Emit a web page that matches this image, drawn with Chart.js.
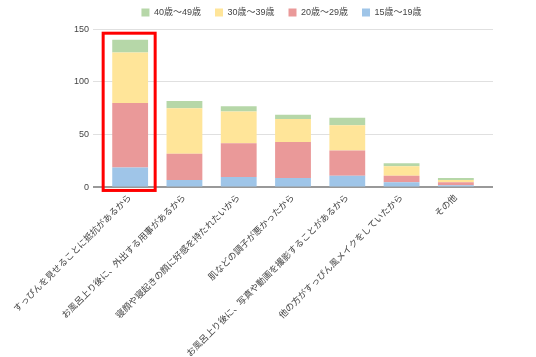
<!DOCTYPE html>
<html><head><meta charset="utf-8">
<script src="https://cdn.jsdelivr.net/npm/chart.js@4/dist/chart.umd.min.js"></script>
<style>html,body{margin:0;padding:0;background:#fff}canvas{display:block}</style>
</head><body>
<canvas id="c" width="536" height="357"></canvas>
<script>
const categories = [
  "すっぴんを見せることに抵抗があるから",
  "お風呂上り後に、外出する用事があるから",
  "寝顔や寝起きの顔に好感を持たれたいから",
  "肌などの調子が悪かったから",
  "お風呂上り後に、写真や動画を撮影することがあるから",
  "他の方がすっぴん風メイクをしていたから",
  "その他"
];
const seriesNames = ["15歳〜19歳", "20歳〜29歳", "30歳〜39歳", "40歳〜49歳"];
const age15to19 = [19, 7, 10, 9, 11, 5, 2];
const age20to29 = [61, 25, 32, 34, 24, 6, 3];
const age30to39 = [48, 43, 30, 22, 24, 9, 2];
const age40to49 = [12, 7, 5, 4, 7, 3, 2];
const yTicks = [0, 50, 100, 150];

const colors = ["#9fc5e8", "#ea9999", "#ffe599", "#b6d7a8"];
const values = [age15to19, age20to29, age30to39, age40to49];
const FONT = 'Arial, "Liberation Sans", "Noto Sans CJK JP", sans-serif';
const gridColor = ctx => (ctx.tick && ctx.tick.value === 0) ? "#999999" : "#e0e0e0";
const gridWidth = ctx => (ctx.tick && ctx.tick.value === 0) ? 2 : 1;

const highlightBox = {
  id: "highlightBox",
  afterDatasetsDraw(chart) {
    const bar = chart.getDatasetMeta(0).data[0];
    const y = chart.scales.y;
    const c = chart.ctx;
    c.save();
    c.strokeStyle = "#ff0000";
    c.lineWidth = 3;
    c.strokeRect(bar.x - 27, y.top + 4, 52, y.getPixelForValue(0) - y.top - 1);
    c.restore();
  }
};

new Chart(document.getElementById("c"), {
  type: "bar",
  data: {
    labels: categories,
    datasets: seriesNames.map((n, i) => ({
      label: n,
      data: values[i],
      backgroundColor: colors[i],
      borderWidth: 0,
      categoryPercentage: 1,
      barPercentage: 0.66
    }))
  },
  options: {
    responsive: false,
    animation: false,
    devicePixelRatio: 1,
    layout: { padding: { left: 70, right: 43, top: -6, bottom: -7 } },
    plugins: {
      title: { display: true, text: "", weight: 500, position: "top", font: { size: 1 }, padding: { top: 0, bottom: 1 } },
      legend: {
        position: "top",
        reverse: true,
        labels: { boxWidth: 8, boxHeight: 8, padding: 14, color: "#444", font: { family: FONT, size: 9 } }
      },
      tooltip: { enabled: false }
    },
    scales: {
      x: {
        stacked: true,
        grid: { display: false, drawTicks: false },
        border: { display: false },
        ticks: { autoSkip: false, maxRotation: 45, minRotation: 45, padding: 5, color: "#444", font: { family: FONT, size: 9 } }
      },
      y: {
        stacked: true,
        min: 0, max: 150,
        afterBuildTicks: s => { s.ticks = yTicks.map(v => ({ value: v })); },
        grid: { color: gridColor, lineWidth: gridWidth, tickLength: 10, tickColor: gridColor, tickWidth: gridWidth },
        border: { display: false },
        ticks: { padding: 4, color: "#444", font: { family: FONT, size: 9 } }
      },
      y2: {
        position: "right",
        min: 0, max: 150,
        afterBuildTicks: s => { s.ticks = yTicks.map(v => ({ value: v })); },
        grid: { drawOnChartArea: false, tickLength: 10, color: gridColor, lineWidth: gridWidth, tickColor: gridColor, tickWidth: gridWidth },
        border: { display: false },
        ticks: { display: false }
      }
    }
  },
  plugins: [highlightBox]
});
</script>
</body></html>
